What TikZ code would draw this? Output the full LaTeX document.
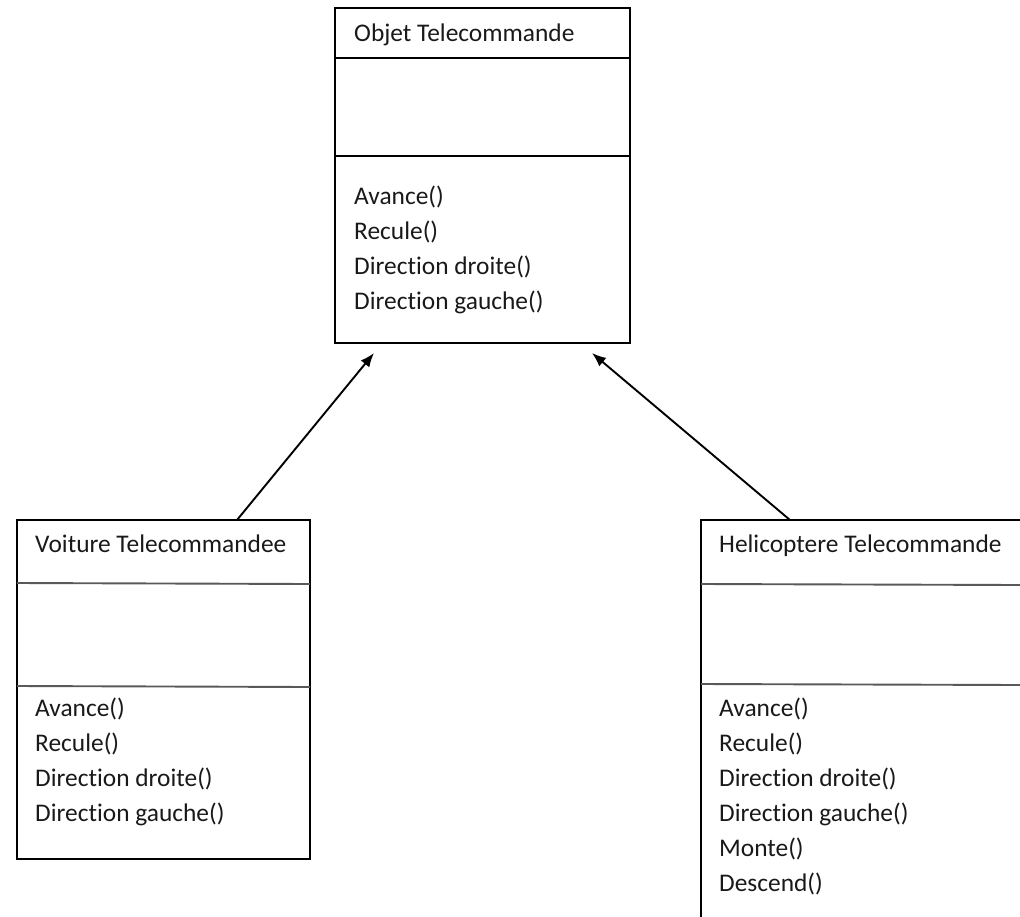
\documentclass[tikz,border=0pt]{standalone}
\usepackage{fontspec}
\setmainfont[Ligatures=NoCommon]{Carlito}
\usetikzlibrary{arrows.meta}
\begin{document}
\begin{tikzpicture}[x=1pt,y=-1pt,
  box/.style={draw=black,line width=1.9pt,fill=none},
  divline/.style={line width=1.9pt,draw=black},
  softdiv/.style={line width=1.9pt,draw=black!65},
  lbl/.style={anchor=base west,inner sep=0pt,font=\fontsize{25.4}{30}\selectfont,text=black!90},
  inh/.style={line width=1.9pt,-{Latex[length=14pt,width=11pt]}}]
\useasboundingbox (0,0) rectangle (1020,916);
\clip (0,0) rectangle (1020,916);
% top class
\draw[box] (335,8) rectangle (630,343);
\coordinate (objet) at (335,8);
\draw[divline] (335,58) -- (630,58);
\draw[divline] (335,156) -- (630,156);
\node[lbl] (ot) at (354,41) {Objet Telecommande};
\node[lbl] (o1) at (354,204) {Avance()};
\node[lbl] (o2) at (354,239) {Recule()};
\node[lbl] (o3) at (354,274) {Direction droite()};
\node[lbl] (o4) at (354,309) {Direction gauche()};
% left class
\draw[box] (17,520) rectangle (310,859);
\draw[softdiv] (17,583) -- (310,584);
\draw[softdiv] (17,686) -- (310,687);
\node[lbl] (vt) at (35,552) {Voiture Telecommandee};
\node[lbl] (v1) at (35,716) {Avance()};
\node[lbl] (v2) at (35,751) {Recule()};
\node[lbl] (v3) at (35,786) {Direction droite()};
\node[lbl] (v4) at (35,821) {Direction gauche()};
% right class
\draw[box] (701,520) rectangle (1040,940);
\draw[softdiv] (701,584) -- (1020,585);
\draw[softdiv] (701,684) -- (1020,685);
\node[lbl] (ht) at (719,552) {Helicoptere Telecommande};
\node[lbl] (h1) at (719,716) {Avance()};
\node[lbl] (h2) at (719,751) {Recule()};
\node[lbl] (h3) at (719,786) {Direction droite()};
\node[lbl] (h4) at (719,821) {Direction gauche()};
\node[lbl] (h5) at (719,856) {Monte()};
\node[lbl] (h6) at (719,891) {Descend()};
% inheritance arrows
\coordinate (vtop) at (237,520);
\coordinate (htop) at (790,520);
\coordinate (tipL) at (374,353);
\coordinate (tipR) at (592,353);
\draw[inh] (vtop) -- (tipL);
\draw[inh] (htop) -- (tipR);
\end{tikzpicture}
\end{document}
